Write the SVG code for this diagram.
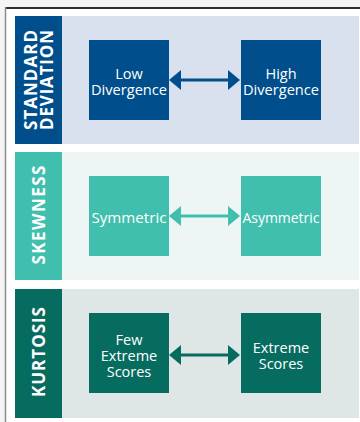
<svg xmlns="http://www.w3.org/2000/svg" width="360" height="422" viewBox="0 0 360 422">
<defs>
<style>
.lbl{font-family:"Open Sans","Noto Sans","Liberation Sans",sans-serif;font-weight:700;font-size:17px;fill:#fff;text-anchor:middle}
.bt{font-family:"Open Sans","Noto Sans","Liberation Sans",sans-serif;font-size:14.5px;fill:#fff;text-anchor:middle}
.c1{fill:#004f8c}.c2{fill:#40bfae}.c3{fill:#076c60}
.conn{stroke-width:3;fill:none}
</style>
<marker id="ah1" viewBox="0 0 12 20" refX="6" refY="10" markerWidth="12" markerHeight="20" markerUnits="userSpaceOnUse" orient="auto-start-reverse"><path d="M0,0 L12,10 L0,20 z" fill="#004f8c"/></marker>
<marker id="ah2" viewBox="0 0 12 20" refX="6" refY="10" markerWidth="12" markerHeight="20" markerUnits="userSpaceOnUse" orient="auto-start-reverse"><path d="M0,0 L12,10 L0,20 z" fill="#40bfae"/></marker>
<marker id="ah3" viewBox="0 0 12 20" refX="6" refY="10" markerWidth="12" markerHeight="20" markerUnits="userSpaceOnUse" orient="auto-start-reverse"><path d="M0,0 L12,10 L0,20 z" fill="#076c60"/></marker>
</defs>
<rect x="0" y="0" width="360" height="422" fill="#f4f4f4"/>
<rect x="5" y="7" width="355" height="415" fill="#ffffff"/>
<line x1="5" y1="8" x2="360" y2="8" stroke="#2e2e2e" stroke-width="2"/>
<line x1="5.5" y1="7" x2="5.5" y2="422" stroke="#8c8c8c" stroke-width="1.5"/>

<g id="band-sd">
<rect x="62" y="16" width="297" height="128" fill="#d9e1ee"/>
<rect x="15" y="16" width="47" height="128" class="c1"/>
<text class="lbl" transform="translate(38.5,80) rotate(-90)"><tspan x="0" y="-2" textLength="100" lengthAdjust="spacing">STANDARD</tspan><tspan x="0" y="14" textLength="100" lengthAdjust="spacing">DEVIATION</tspan></text>
</g>
<g id="band-sk">
<rect x="62" y="152" width="297" height="128" fill="#edf6f4"/>
<rect x="15" y="152" width="47" height="128" class="c2"/>
<text class="lbl" transform="translate(38.5,215) rotate(-90)" x="0" y="6" textLength="99" lengthAdjust="spacing">SKEWNESS</text>
</g>
<g id="band-ku">
<rect x="62" y="289" width="297" height="129" fill="#dfe7e6"/>
<rect x="15" y="289" width="47" height="129" class="c3"/>
<text class="lbl" transform="translate(38.5,352) rotate(-90)" x="0" y="6" textLength="90" lengthAdjust="spacing">KURTOSIS</text>
</g>

<g id="low-divergence">
<rect x="89" y="40" width="80" height="80" class="c1"/>
<text class="bt"><tspan x="129" y="79">Low</tspan><tspan x="129" y="95" textLength="76" lengthAdjust="spacingAndGlyphs">Divergence</tspan></text>
</g>
<g id="high-divergence">
<rect x="241" y="40" width="80" height="80" class="c1"/>
<text class="bt"><tspan x="281" y="79">High</tspan><tspan x="281" y="95" textLength="76" lengthAdjust="spacingAndGlyphs">Divergence</tspan></text>
</g>
<g id="symmetric">
<rect x="89" y="176" width="80" height="80" class="c2"/>
<text class="bt" x="129" y="223" textLength="75" lengthAdjust="spacingAndGlyphs">Symmetric</text>
</g>
<g id="asymmetric">
<rect x="241" y="176" width="80" height="80" class="c2"/>
<text class="bt" x="281" y="223" textLength="77" lengthAdjust="spacingAndGlyphs">Asymmetric</text>
</g>
<g id="few-extreme">
<rect x="89" y="313" width="80" height="80" class="c3"/>
<text class="bt"><tspan x="129" y="345">Few</tspan><tspan x="129" y="361">Extreme</tspan><tspan x="129" y="377">Scores</tspan></text>
</g>
<g id="extreme-scores">
<rect x="241" y="313" width="80" height="80" class="c3"/>
<text class="bt"><tspan x="281" y="352.5">Extreme</tspan><tspan x="281" y="368.5">Scores</tspan></text>
</g>

<g id="connectors">
<line class="conn" x1="175" y1="80" x2="234" y2="80" stroke="#004f8c" marker-start="url(#ah1)" marker-end="url(#ah1)"/>
<line class="conn" x1="175" y1="216" x2="234" y2="216" stroke="#40bfae" marker-start="url(#ah2)" marker-end="url(#ah2)"/>
<line class="conn" x1="175" y1="355" x2="234" y2="355" stroke="#076c60" marker-start="url(#ah3)" marker-end="url(#ah3)"/>
</g>
</svg>
